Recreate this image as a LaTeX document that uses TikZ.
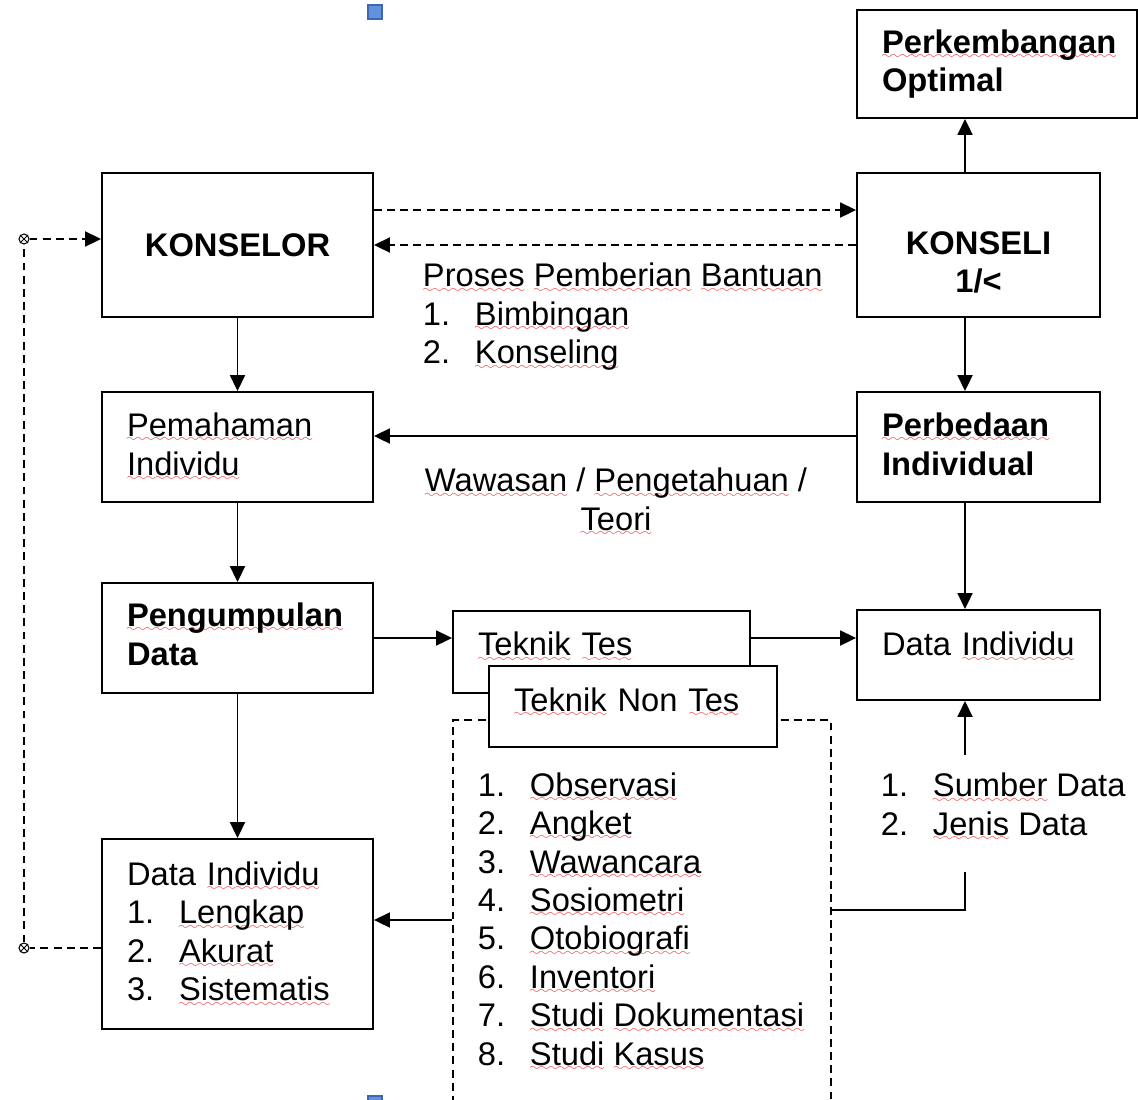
\documentclass[tikz,border=0pt]{standalone}
\usepackage{fontspec}
\setmainfont{Liberation Sans}
\usepackage{tikz}
\usetikzlibrary{arrows.meta,shapes,positioning,calc}
\definecolor{handBlue}{RGB}{98,146,222}
\definecolor{handEdge}{RGB}{62,102,178}
\definecolor{ejaRed}{RGB}{235,35,35}
\font\gelombang=lasy6
\newsavebox\ejabox
\newcommand\ukuran{\fontsize{18.6pt}{21.9pt}\selectfont}
\newcommand\eja[1]{\leavevmode\sbox\ejabox{#1}\rlap{\color{ejaRed}\lower3pt\hbox to\wd\ejabox{\xleaders\hbox{\gelombang\char58}\hfill}}\usebox\ejabox}
\newcommand\nomor[2]{\makebox[1.04cm][l]{#1}#2}

\begin{document}
\begin{tikzpicture}[x=0.02cm,y=-0.02cm,font=\ukuran,line width=1.1pt,
    >={Triangle[length=0.32cm,width=0.3cm]},
    kotak/.style={draw,fill=white,align=left,inner xsep=0.5cm,inner ysep=0pt},
    tebal/.style={font=\ukuran\bfseries},
    teks/.style={inner sep=0pt,align=left},
    titik/.style={circle,draw,fill=white,inner sep=0pt,minimum size=0.2cm,line width=0.6pt},
    putus/.style={dash pattern=on 4.5pt off 3pt}]
  \useasboundingbox (0,0) rectangle (1138,1099);
  % Penanda
  \fill[handBlue,draw=handEdge,line width=0.8pt] (368,5) rectangle (382,19);
  \fill[handBlue,draw=handEdge,line width=0.8pt] (368,1096) rectangle (382,1104);
  % Kotak
  \node[kotak,tebal,minimum width=5.6cm,text width=4.6cm,minimum height=2.16cm]
    (optimal) at (997,64) {\eja{Perkembangan}\\Optimal};
  \node[kotak,tebal,align=center,minimum width=5.42cm,text width=4.42cm,minimum height=2.88cm]
    (konselor) at (237.5,245) {KONSELOR};
  \node[kotak,tebal,align=center,minimum width=4.86cm,text width=3.86cm,minimum height=2.88cm]
    (konseli) at (978.5,245) {\rule{0pt}{33pt}KONSELI\\1/<};
  \node[kotak,minimum width=5.42cm,text width=4.42cm,minimum height=2.2cm]
    (pemahaman) at (237.5,447) {\eja{Pemahaman}\\\eja{Individu}\rule[-0.12cm]{0pt}{0.12cm}};
  \node[kotak,tebal,minimum width=4.86cm,text width=3.86cm,minimum height=2.2cm]
    (perbedaan) at (978.5,447) {\eja{Perbedaan}\\Individual\rule[-0.12cm]{0pt}{0.12cm}};
  \node[kotak,tebal,minimum width=5.42cm,text width=4.42cm,minimum height=2.2cm]
    (pengumpulan) at (237.5,638) {\eja{Pengumpulan}\\Data\rule[-0.16cm]{0pt}{0.16cm}};
  \node[draw,putus,minimum width=7.56cm,minimum height=8.2cm]
    (frame) at (642,925) {};
  \node[kotak,minimum width=5.94cm,text width=4.94cm,minimum height=1.64cm]
    (tes) at (601.5,652) {\eja{Teknik} \eja{Tes}\rule[-0.32cm]{0pt}{0.32cm}};
  \node[kotak,minimum width=5.76cm,text width=4.76cm,minimum height=1.62cm]
    (nontes) at (633,706.5) {\eja{Teknik} Non \eja{Tes}\rule[-0.28cm]{0pt}{0.28cm}};
  \node[kotak,minimum width=4.86cm,text width=3.86cm,minimum height=1.8cm]
    (dataR) at (978.5,655) {Data \eja{Individu}\rule[-0.44cm]{0pt}{0.44cm}};
  \node[kotak,minimum width=5.42cm,text width=4.42cm,minimum height=3.8cm]
    (dataL) at (237.5,934) {Data \eja{Individu}\\
      \nomor{1.}{\eja{Lengkap}}\\\nomor{2.}{\eja{Akurat}}\\\nomor{3.}{\eja{Sistematis}}};
  % Teks lepas
  \node[teks,anchor=west] (proses) at (422,317)
    {\eja{Proses} \eja{Pemberian} \eja{Bantuan}\\
     \nomor{1.}{\eja{Bimbingan}}\\\nomor{2.}{\eja{Konseling}}};
  \node[teks,align=center] (wawasan) at (616,502)
    {\eja{Wawasan} / \eja{Pengetahuan} /\\\eja{Teori}};
  \node[teks,anchor=west] (daftar) at (477,921.5)
    {\nomor{1.}{\eja{Observasi}}\\\nomor{2.}{\eja{Angket}}\\
     \nomor{3.}{\eja{Wawancara}}\\\nomor{4.}{\eja{Sosiometri}}\\
     \nomor{5.}{\eja{Otobiografi}}\\\nomor{6.}{\eja{Inventori}}\\
     \nomor{7.}{\eja{Studi} \eja{Dokumentasi}}\\\nomor{8.}{\eja{Studi} \eja{Kasus}}};
  \node[teks,anchor=west] (sumber) at (880,807)
    {\nomor{1.}{\eja{Sumber} Data}\\\nomor{2.}{\eja{Jenis} Data}};
  \coordinate (sumtop) at (965,755);
  \coordinate (sumbot) at (965,872);
  % Titik silang
  \foreach \m/\y in {mkA/239,mkB/948}{
    \node[titik] (\m) at (24,\y) {};
    \draw[line width=0.5pt] (\m.north west) -- (\m.south east)
      (\m.north east) -- (\m.south west);
  }
  % Panah
  \draw[putus,->] ([yshift=0.7cm]konselor.east) -- ([yshift=0.7cm]konselor.east -| konseli.west);
  \draw[putus,->] (konseli.west) -- (konselor.east);
  \draw[->] ([xshift=-0.27cm]konseli.north) -- ([xshift=-0.27cm]konseli.north |- optimal.south);
  \foreach \a/\b in {konselor/pemahaman,pemahaman/pengumpulan,pengumpulan/dataL}
    \draw[->] (\a.south) -- (\b.north);
  \foreach \a/\b in {konseli/perbedaan,perbedaan/dataR}
    \draw[->] ([xshift=-0.27cm]\a.south) -- ([xshift=-0.27cm]\b.north);
  \draw[->] ([yshift=0.22cm]perbedaan.west) -- ([yshift=0.22cm]perbedaan.west -| pemahaman.east);
  \draw[->] (pengumpulan.east) -- (pengumpulan.east -| tes.west);
  \draw[->] (pengumpulan.east -| tes.east) -- (pengumpulan.east -| dataR.west);
  \draw[->] (sumtop) -- (sumtop |- dataR.south);
  \draw (sumbot) |- ([yshift=0.3cm]frame.east);
  \draw[->] ([yshift=0.1cm]frame.west) -- ([yshift=0.1cm]frame.west -| dataL.east);
  \draw[putus] (mkB -| dataL.west) -- (mkB) -- (mkA);
  \draw[putus,->] (mkA) -- (mkA -| konselor.west);
\end{tikzpicture}
\end{document}
